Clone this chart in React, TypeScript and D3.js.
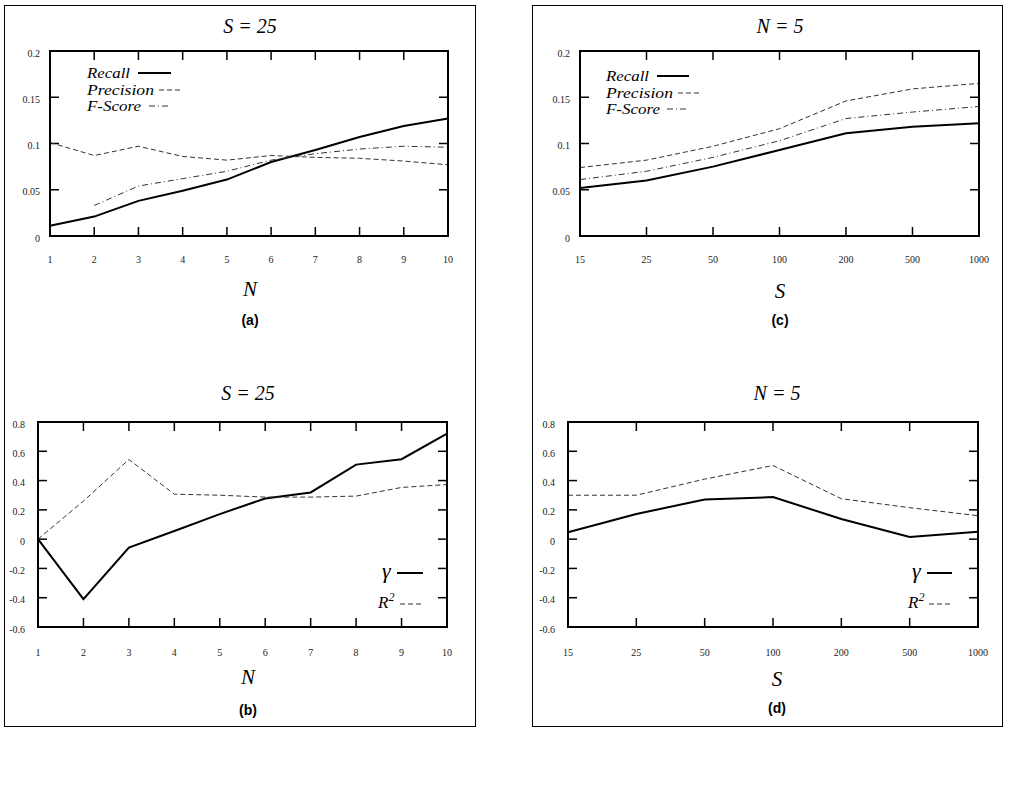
import { useRef, useEffect } from "react";
import * as d3 from "d3";

// x values
const nValues = [1, 2, 3, 4, 5, 6, 7, 8, 9, 10];
const sValues = ["15", "25", "50", "100", "200", "500", "1000"];

// y ticks
const scoreTicks = [0, 0.05, 0.1, 0.15, 0.2];
const corrTicks = [-0.6, -0.4, -0.2, 0, 0.2, 0.4, 0.6, 0.8];

// (a) S = 25, by N
const recallByN = [0.011, 0.021, 0.038, 0.049, 0.061, 0.08, 0.093, 0.107, 0.119, 0.127];
const precisionByN = [0.101, 0.087, 0.097, 0.086, 0.082, 0.087, 0.085, 0.084, 0.081, 0.077];
const fScoreByN = [null, 0.033, 0.054, 0.062, 0.07, 0.082, 0.089, 0.094, 0.097, 0.096];

// (b) S = 25, by N
const gammaByN = [0, -0.41, -0.058, 0.056, 0.171, 0.278, 0.319, 0.509, 0.546, 0.72];
const r2ByN = [0, 0.26, 0.544, 0.307, 0.3, 0.287, 0.287, 0.294, 0.353, 0.373];

// (c) N = 5, by S
const recallByS = [0.052, 0.06, 0.075, 0.093, 0.111, 0.118, 0.122];
const precisionByS = [0.074, 0.082, 0.097, 0.116, 0.146, 0.159, 0.165];
const fScoreByS = [0.061, 0.07, 0.085, 0.103, 0.127, 0.134, 0.14];

// (d) N = 5, by S
const gammaByS = [0.047, 0.172, 0.27, 0.287, 0.138, 0.015, 0.051];
const r2ByS = [0.3, 0.3, 0.41, 0.503, 0.276, 0.215, 0.16];

const SERIF = "'Liberation Serif', 'DejaVu Serif', serif";
const SANS = "'Liberation Sans', Arial, sans-serif";

const styles = {
  solid: { width: 2, dash: null, color: "#000" },
  dashed: { width: 1, dash: "5,3", color: "#333" },
  dashdot: { width: 1, dash: "6,3,1,3", color: "#333" },
};

// legend text widths as seen in the picture
const legendWidths: Record<string, number> = { Recall: 43, Precision: 67, "F-Score": 54 };

const panels = [
  {
    id: "a", title: "S = 25", xTitle: "N", cat: false, xs: nValues,
    ticks: scoreTicks, dom: [0, 0.2],
    box: { l: 50, r: 448, t: 51, b: 236 }, cx: 250, gap: 10,
    yTitle: 33, yX: 259, yAxis: 296, yLab: 325,
    series: [
      { name: "Recall", v: recallByN, st: "solid" },
      { name: "Precision", v: precisionByN, st: "dashed" },
      { name: "F-Score", v: fScoreByN, st: "dashdot" },
    ],
    legend: [
      { x: 87, y: 78, x1: 138, x2: 171 },
      { x: 87, y: 95, x1: 159, x2: 183 },
      { x: 87, y: 111, x1: 149, x2: 171 },
    ],
  },
  {
    id: "b", title: "S = 25", xTitle: "N", cat: false, xs: nValues,
    ticks: corrTicks, dom: [-0.6, 0.8],
    box: { l: 38, r: 447, t: 422, b: 627 }, cx: 248, gap: 13,
    yTitle: 400, yX: 652, yAxis: 684, yLab: 715,
    series: [
      { name: "γ", v: gammaByN, st: "solid" },
      { name: "R2", v: r2ByN, st: "dashed" },
    ],
    legend: [
      { x: 382, y: 578, x1: 397, x2: 423 },
      { x: 378, y: 608, x1: 400, x2: 424 },
    ],
  },
  {
    id: "c", title: "N = 5", xTitle: "S", cat: true, xs: sValues,
    ticks: scoreTicks, dom: [0, 0.2],
    box: { l: 580, r: 979, t: 51, b: 236 }, cx: 780, gap: 10,
    yTitle: 33, yX: 259, yAxis: 298, yLab: 325,
    series: [
      { name: "Recall", v: recallByS, st: "solid" },
      { name: "Precision", v: precisionByS, st: "dashed" },
      { name: "F-Score", v: fScoreByS, st: "dashdot" },
    ],
    legend: [
      { x: 606, y: 81, x1: 657, x2: 689 },
      { x: 606, y: 98, x1: 678, x2: 702 },
      { x: 606, y: 114, x1: 667, x2: 688 },
    ],
  },
  {
    id: "d", title: "N = 5", xTitle: "S", cat: true, xs: sValues,
    ticks: corrTicks, dom: [-0.6, 0.8],
    box: { l: 568, r: 978, t: 422, b: 627 }, cx: 777, gap: 13,
    yTitle: 400, yX: 652, yAxis: 686, yLab: 713,
    series: [
      { name: "γ", v: gammaByS, st: "solid" },
      { name: "R2", v: r2ByS, st: "dashed" },
    ],
    legend: [
      { x: 912, y: 578, x1: 927, x2: 952 },
      { x: 908, y: 608, x1: 929, x2: 953 },
    ],
  },
];

const App = () => {
  const svgRef = useRef<SVGSVGElement>(null);

  useEffect(() => {
    document.body.style.margin = "0";
    const svg = d3.select(svgRef.current);
    svg.selectAll("*").remove();

    svg.append("rect").attr("width", 1017).attr("height", 800).attr("fill", "#fff");

    // outer frames
    svg.append("rect").attr("x", 4.5).attr("y", 5.5).attr("width", 471).attr("height", 721)
      .attr("fill", "none").attr("stroke", "#000").attr("stroke-width", 1);
    svg.append("rect").attr("x", 532.5).attr("y", 5.5).attr("width", 470).attr("height", 721)
      .attr("fill", "none").attr("stroke", "#000").attr("stroke-width", 1);

    panels.forEach((p: any) => {
      const g = svg.append("g");
      const { l, r, t, b } = p.box;

      const x: any = p.cat
        ? d3.scalePoint().domain(p.xs).range([l, r]).padding(0)
        : d3.scaleLinear().domain([1, 10]).range([l, r]);
      const y = d3.scaleLinear().domain(p.dom).range([b, t]);

      // ticks inward on all sides
      const tickLen = 9;
      p.xs.forEach((d: any) => {
        g.append("line").attr("x1", x(d)).attr("x2", x(d)).attr("y1", b).attr("y2", b - tickLen)
          .attr("stroke", "#000").attr("stroke-width", 1.5);
        g.append("line").attr("x1", x(d)).attr("x2", x(d)).attr("y1", t).attr("y2", t + tickLen)
          .attr("stroke", "#000").attr("stroke-width", 1.5);
        g.append("text").attr("x", x(d)).attr("y", p.yX).attr("dy", "0.35em")
          .attr("text-anchor", "middle").attr("font-family", SERIF).attr("font-size", 10)
          .attr("fill", "#222").text(String(d));
      });
      p.ticks.forEach((d: number) => {
        g.append("line").attr("x1", l).attr("x2", l + tickLen).attr("y1", y(d)).attr("y2", y(d))
          .attr("stroke", "#000").attr("stroke-width", 1.5);
        g.append("line").attr("x1", r).attr("x2", r - tickLen).attr("y1", y(d)).attr("y2", y(d))
          .attr("stroke", "#000").attr("stroke-width", 1.5);
        g.append("text").attr("x", l - p.gap).attr("y", y(d) + 2).attr("dy", "0.35em")
          .attr("text-anchor", "end").attr("font-family", SERIF).attr("font-size", 10)
          .attr("fill", "#222").text(String(d));
      });

      // data lines
      p.series.forEach((s: any) => {
        const st = (styles as any)[s.st];
        const line = d3.line<any>()
          .defined((d) => d != null)
          .x((_, i) => x(p.xs[i]))
          .y((d) => y(d));
        g.append("path").datum(s.v).attr("d", line).attr("fill", "none")
          .attr("stroke", st.color).attr("stroke-width", st.width)
          .attr("stroke-dasharray", st.dash);
      });

      // plot frame
      g.append("rect").attr("x", l).attr("y", t).attr("width", r - l).attr("height", b - t)
        .attr("fill", "none").attr("stroke", "#000").attr("stroke-width", 2);

      // legend
      p.series.forEach((s: any, i: number) => {
        const st = (styles as any)[s.st];
        const lg = p.legend[i];
        const txt = g.append("text").attr("x", lg.x).attr("y", lg.y)
          .attr("font-family", SERIF).attr("font-style", "italic").attr("fill", "#000");
        if (s.name === "R2") {
          txt.attr("font-size", 17).text("R");
          txt.append("tspan").attr("font-size", 12).attr("dy", -7).text("2");
        } else if (s.name === "γ") {
          txt.attr("font-size", 22).text("γ");
        } else {
          txt.attr("font-size", 14.5).attr("textLength", legendWidths[s.name])
            .attr("lengthAdjust", "spacingAndGlyphs").text(s.name);
        }
        g.append("line").attr("x1", lg.x1).attr("x2", lg.x2)
          .attr("y1", lg.y - (s.name === "R2" ? 4 : 5)).attr("y2", lg.y - (s.name === "R2" ? 4 : 5))
          .attr("stroke", st.color).attr("stroke-width", st.width)
          .attr("stroke-dasharray", st.dash);
      });

      // titles
      g.append("text").attr("x", p.cx).attr("y", p.yTitle).attr("text-anchor", "middle")
        .attr("font-family", SERIF).attr("font-style", "italic").attr("font-size", 20)
        .text(p.title);
      g.append("text").attr("x", p.cx).attr("y", p.yAxis).attr("text-anchor", "middle")
        .attr("font-family", SERIF).attr("font-style", "italic").attr("font-size", 21)
        .text(p.xTitle);
      g.append("text").attr("x", p.cx).attr("y", p.yLab).attr("text-anchor", "middle")
        .attr("font-family", SANS).attr("font-weight", "bold").attr("font-size", 14)
        .text(`(${p.id})`);
    });
  }, []);

  return (
    <div>
      <svg ref={svgRef} width={1017} height={800} style={{ display: "block" }}></svg>
    </div>
  );
};

export default App;
